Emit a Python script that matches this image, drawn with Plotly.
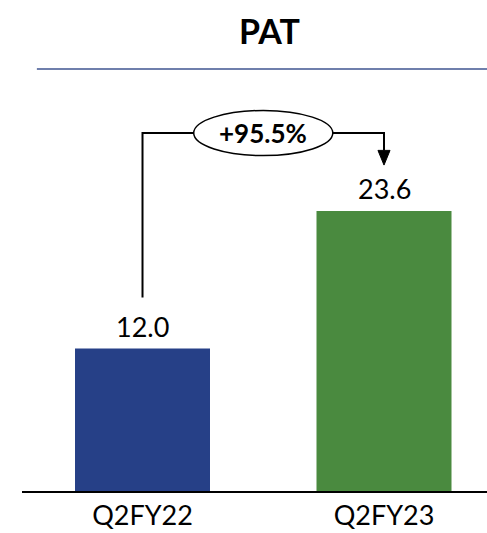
import plotly.graph_objects as go

categories = ["Q2FY22", "Q2FY23"]
values = [12.0, 23.6]
value_labels = ["12.0", "23.6"]
colors = ["#264087", "#4A8A3F"]
growth_label = "+95.5%"
title = "PAT"

FONT = "Lato, Open Sans, sans-serif"
x = [0, 1]

fig = go.Figure()
fig.add_trace(go.Bar(x=x, y=values, width=0.559, marker=dict(color=colors, line=dict(width=0)),
                     hoverinfo="skip"))

ymax = 38.0
# value labels
for xi, v, lbl in zip(x, values, value_labels):
    fig.add_annotation(x=xi, y=v, text=lbl, showarrow=False, yanchor="middle", yshift=22,
                       font=dict(family=FONT, size=27, color="#000000"))

# connector geometry derived from data
top = max(values)
y_conn = top * 1.278
y_start = values[0] + 4.3
y_tip = top + 3.86
y_arrow_base = top + 5.1
x_mid = (x[0] + x[1]) / 2
ell_w = 0.288
ell_h = 1.9

fig.add_shape(type="path",
              path=f"M {x[0]},{y_start} L {x[0]},{y_conn} L {x_mid-ell_w},{y_conn}",
              line=dict(color="black", width=2))
fig.add_shape(type="path",
              path=f"M {x_mid+ell_w},{y_conn} L {x[1]},{y_conn} L {x[1]},{y_arrow_base}",
              line=dict(color="black", width=2))
fig.add_shape(type="path",
              path=f"M {x[1]-0.025},{y_arrow_base} L {x[1]+0.025},{y_arrow_base} L {x[1]},{y_tip} Z",
              line=dict(color="black", width=1), fillcolor="black")
fig.add_shape(type="circle", x0=x_mid-ell_w, x1=x_mid+ell_w, y0=y_conn-ell_h, y1=y_conn+ell_h,
              line=dict(color="black", width=1.5), fillcolor="white")
fig.add_annotation(x=x_mid, y=y_conn, text=f"<b>{growth_label}</b>", showarrow=False,
                   font=dict(family=FONT, size=26, color="#000000"))

# rule under title
fig.add_shape(type="line", xref="paper", yref="paper", x0=0.032, x1=1.0,
              y0=(491 - 69) / 451, y1=(491 - 69) / 451,
              line=dict(color="#3F5591", width=1.5))

fig.update_layout(
    width=487, height=533,
    margin=dict(l=22, r=0, t=40, b=42),
    paper_bgcolor="white", plot_bgcolor="white",
    showlegend=False,
    title=dict(text=f"<b>{title}</b>", x=269.5 / 487, xanchor="center", y=1 - 32 / 533, yanchor="middle",
               font=dict(family=FONT, size=34, color="#000000")),
    xaxis=dict(range=[-0.499, 1.4265], tickvals=x, ticktext=categories, showgrid=False, zeroline=False,
               showline=True, linecolor="#000000", linewidth=2, ticks="",
               tickfont=dict(family=FONT, size=27, color="#000000")),
    yaxis=dict(range=[0, ymax], visible=False, showgrid=False, zeroline=False),
)

fig.write_html("out.html", config={"displayModeBar": False},
               post_script="document.body.style.margin='0';")
